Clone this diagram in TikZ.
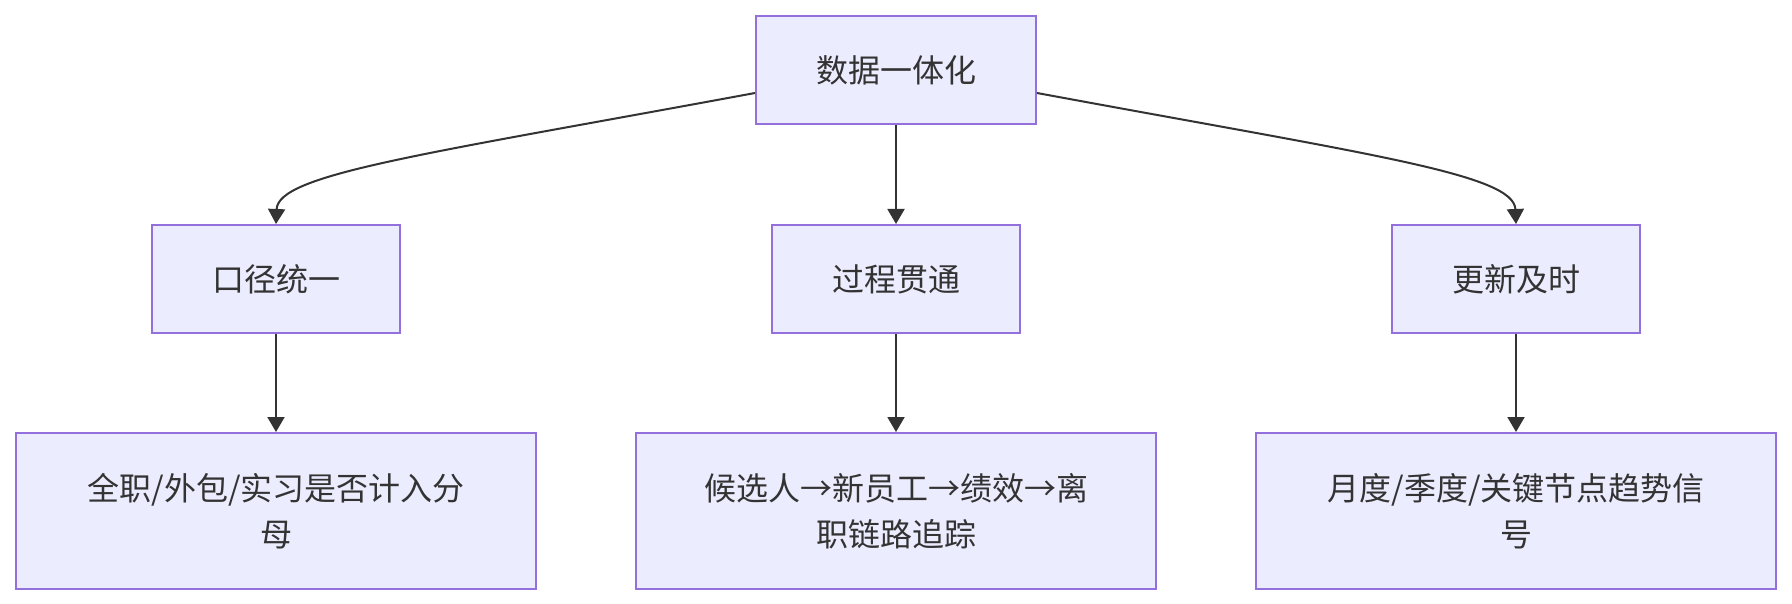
\documentclass[tikz,border=0pt]{standalone}
\usepackage{fontspec}
\setmainfont{Noto Sans CJK SC}
\definecolor{nodefill}{RGB}{236, 236, 255}
\definecolor{nodeline}{RGB}{147, 112, 219}
\definecolor{edgeline}{RGB}{51, 51, 51}
\usetikzlibrary{arrows.meta, positioning}

\begin{document}
\begin{tikzpicture}[
    box/.style={rectangle, draw=nodeline, fill=nodefill, line width=1pt, minimum width=124pt, minimum height=54pt, align=center, text=edgeline, font=\fontsize{16}{23}\selectfont, inner sep=0pt},
    widebox/.style={box, minimum width=260pt, minimum height=78pt},
    arrow/.style={-{Triangle[length=7.5pt, width=8.5pt]}, line width=1pt, edgeline},
    node distance=49.5pt
]
    \useasboundingbox (0,0) rectangle (896pt,-302pt);
    \node[box, minimum width=140pt] (unify) at (448pt,-35pt) {数据一体化};
    \node[box, below=49.5pt of unify] (process) {过程贯通};
    \node[box, left=185pt of process] (scope) {口径统一};
    \node[box, right=185pt of process] (timely) {更新及时};
    \node[widebox, below=49pt of scope] (scopenote) {全职/外包/实习是否计入分\\母};
    \node[widebox, below=49pt of process] (processnote) {候选人→新员工→绩效→离\\职链路追踪};
    \node[widebox, below=49pt of timely] (timelynote) {月度/季度/关键节点趋势信\\号};

    \draw[arrow] ([yshift=-11.5pt]unify.west) .. controls (210pt,-77.5pt) and (139pt,-87pt) .. (scope.north);
    \draw[arrow] (unify) -- (process);
    \draw[arrow] ([yshift=-11.5pt]unify.east) .. controls (686pt,-77.5pt) and (757pt,-87pt) .. (timely.north);
    \draw[arrow] (scope) -- (scopenote);
    \draw[arrow] (process) -- (processnote);
    \draw[arrow] (timely) -- (timelynote);
\end{tikzpicture}
\end{document}
